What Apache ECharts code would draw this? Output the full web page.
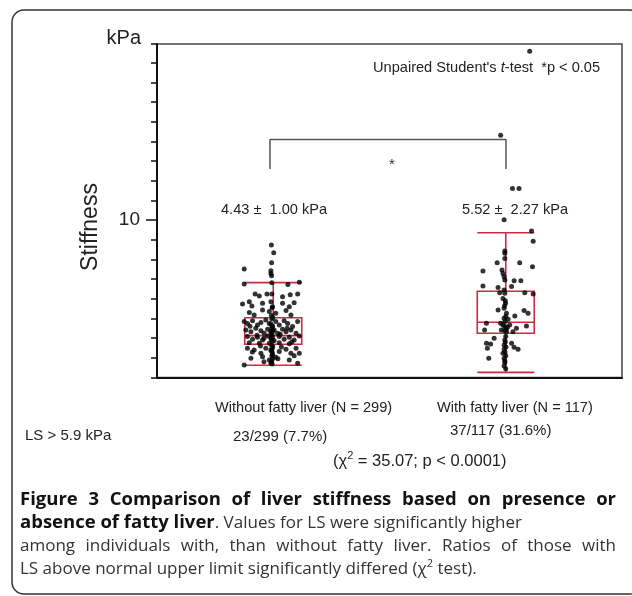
<!DOCTYPE html>
<html>
<head>
<meta charset="utf-8">
<script src="https://cdn.jsdelivr.net/npm/echarts@6/dist/echarts.min.js"></script>
<style>
html,body{margin:0;padding:0;background:#fff;}
#chart{width:632px;height:596px;}
</style>
</head>
<body>
<div id="chart"></div>
<script>
// ---------- data ----------
var categories = ['Without fatty liver (N = 299)', 'With fatty liver (N = 117)'];
// box statistics [min whisker, Q1, median, Q3, max whisker] in kPa
var boxWithout = [2.62, 3.69, 4.13, 5.04, 6.82];
var boxWith = [2.26, 4.25, 4.81, 6.38, 9.36];
// jittered individual values: [jittered group position, kPa]
var pointsWithout = [
  [0.992,8.73],[1.002,8.34],[0.993,7.83],[0.875,7.51],[0.990,7.43],[0.990,7.29],[0.993,7.17],
  [0.875,6.75],[0.994,6.82],[1.063,6.73],[1.112,6.84],[0.922,6.24],[0.940,6.14],[0.973,6.24],
  [0.994,6.24],[1.040,6.11],[1.073,6.21],[1.105,6.24],
  [0.868,5.74],[0.897,5.85],[0.908,5.63],[0.954,5.77],[0.990,5.85],[0.997,5.60],[1.040,5.77],
  [1.069,5.60],[1.090,5.80],
  [0.897,5.30],[0.918,5.18],[0.954,5.43],[0.983,5.35],[1.011,5.26],[1.055,5.40],[1.076,5.18],
  [0.875,4.84],[0.889,4.75],[0.911,4.89],[0.932,4.67],[0.947,4.79],[0.968,4.92],[0.983,4.75],
  [0.997,4.59],[1.011,4.84],[1.026,4.67],[1.047,4.89],[1.062,4.75],[1.083,4.59],[1.105,4.84],
  [0.882,4.42],[0.904,4.33],[0.925,4.50],[0.947,4.38],[0.961,4.25],[0.976,4.45],[0.990,4.33],
  [1.004,4.42],[1.019,4.25],[1.040,4.45],[1.055,4.33],[1.076,4.42],[1.098,4.25],
  [0.889,4.08],[0.911,3.94],[0.932,4.04],[0.954,3.91],[0.976,4.11],[0.990,3.99],[1.004,3.88],
  [1.026,4.08],[1.047,3.94],[1.069,4.04],[1.090,3.91],[1.112,4.11],
  [0.897,3.77],[0.940,3.74],[0.983,3.74],[1.026,3.77],[1.069,3.71],
  [0.889,3.49],[0.918,3.40],[0.947,3.23],[0.968,3.49],[0.990,3.40],[0.997,3.15],[1.026,3.32],
  [1.055,3.44],[1.076,3.23],[1.098,3.49],[1.112,3.23],[0.904,2.98],[0.954,3.06],[0.983,2.89],
  [1.011,3.03],[1.069,2.89],[0.875,2.64],[0.990,2.72],[1.105,2.72],
  [0.995,5.55],[0.992,5.15],[0.998,5.05],[0.994,4.97],[0.990,4.72],[0.996,4.62],[0.993,4.52],
  [0.998,4.36],[0.991,4.28],[0.995,4.18],[0.997,4.06],[0.992,3.96],[0.996,3.84],[0.993,3.64],
  [0.998,3.58],[0.995,3.46],[0.991,3.36],[0.996,3.27],[0.994,3.10],[0.997,2.95],[0.992,2.82],
  [0.995,2.68],[0.930,4.15],[0.960,4.00],[1.030,4.20],[1.060,4.50],[0.900,4.60],[1.080,3.80],
  [0.945,3.60],[1.035,3.55],[0.910,3.30],[1.090,3.10],[1.020,2.95],[0.960,2.80]
];
var pointsWith = [
  [2.103,18.58],[1.978,14.31],[2.029,11.61],[2.057,11.61],[1.993,10.02],
  [2.111,9.44],[2.118,8.93],[1.996,8.43],[1.996,8.31],[1.996,8.05],[1.963,7.83],[2.060,7.83],
  [2.115,7.63],[1.902,7.41],[1.984,7.46],[1.988,7.29],[1.993,7.12],[1.996,6.95],[2.036,6.92],
  [2.065,6.92],[1.902,6.65],[1.967,6.57],[2.025,6.62],[1.993,6.45],
  [1.974,6.31],[1.996,6.28],[2.082,6.31],[2.118,6.24],[1.988,6.02],[1.999,5.77],[1.967,5.43],
  [1.993,5.52],[2.003,5.26],[2.039,5.13],[2.079,5.40],[2.096,5.26],[1.993,5.01],[2.010,4.96],
  [1.917,4.76],[1.978,4.76],[1.988,4.67],[1.996,4.59],[2.007,4.55],[2.017,4.67],[2.046,4.50],
  [2.089,4.62],[1.909,4.42],[1.981,4.42],[2.003,4.33],[2.031,4.33],[1.950,3.99],[1.917,3.74],
  [1.935,3.70],[1.996,3.91],[1.993,3.65],[2.025,3.74],[2.036,3.54],[2.053,3.43],[1.921,3.49],
  [1.993,3.43],[1.988,3.23],[1.927,2.98],[1.993,2.98],[1.996,2.76],[1.993,2.59],
  [1.998,5.90],[1.995,5.65],[2.000,5.10],[1.997,4.85],[2.002,4.45],[1.995,4.38],[2.000,4.10],
  [1.998,3.80],[2.001,3.55],[1.997,3.30],[2.000,3.10],[1.996,2.85],[2.000,2.45]
];
var yMin = 2, yMax = 18.95, yInterval = 1;
var yTickLabels = [10];
var meanTexts = ['4.43 \u00b1  1.00 kPa', '5.52 \u00b1  2.27 kPa'];
var ratioTexts = ['23/299 (7.7%)', '37/117 (31.6%)'];
// significance bracket between groups (group position, kPa)
var bracket = [[0.986,12.6],[0.986,14.1],[2.001,14.1],[2.001,12.6]];

// ---------- chart ----------
var chart = echarts.init(document.getElementById('chart'), null, {renderer:'canvas'});
var F = 'Liberation Sans, Arial, sans-serif';
var CF = '"Open Sans", sans-serif';
var CS = 17;   // caption font size
var CB = 18.5; // caption bold title size
var red = '#cc2b45';
var txt = '#222';

// justified caption line helper (places each word so the line fills x0..x1)
var mctx = document.createElement('canvas').getContext('2d');
function justify(words, font, color, x0, x1, y) {
  mctx.font = font;
  var widths = words.map(function (w) { return mctx.measureText(w).width; });
  var total = widths.reduce(function (a, b) { return a + b; }, 0);
  var gap = (x1 - x0 - total) / (words.length - 1);
  var x = x0, out = [];
  words.forEach(function (w, i) {
    out.push({type:'text', x:x, y:y, silent:true, style:{text:w, font:font, fill:color, verticalAlign:'middle'}});
    x += widths[i] + gap;
  });
  return out;
}

var captionLine1 = 'Figure 3 Comparison of liver stiffness based on presence or'.split(' ');
var captionLine3 = 'among individuals with, than without fatty liver. Ratios of those with'.split(' ');

var graphics = [
  {type:'rect', shape:{x:12, y:10, width:630, height:584, r:12}, style:{fill:null, stroke:'#333', lineWidth:1.5}, silent:true},
  {type:'text', x:141, y:38, style:{text:'kPa', font:'20px '+F, fill:txt, align:'right', verticalAlign:'middle'}},
  {type:'text', x:91, y:227, rotation:Math.PI/2, style:{text:'Stiffness', font:'23px '+F, fill:txt, align:'center', verticalAlign:'middle'}},
  {type:'text', x:373, y:68, style:{rich:{
      n:{fontFamily:F, fontSize:14.6, fill:txt},
      i:{fontFamily:F, fontSize:14.6, fontStyle:'italic', fill:txt}},
    text:"{n|Unpaired Student's }{i|t}{n|-test  *p < 0.05}", verticalAlign:'middle'}},
  {type:'text', x:221, y:209.5, style:{text:meanTexts[0], font:'14.6px '+F, fill:txt, verticalAlign:'middle'}},
  {type:'text', x:462, y:210, style:{text:meanTexts[1], font:'14.6px '+F, fill:txt, verticalAlign:'middle'}},
  {type:'text', x:392, y:165, style:{text:'*', font:'15px '+F, fill:'#333', align:'center', verticalAlign:'middle'}},
  {type:'text', x:215, y:408, style:{text:categories[0], font:'14.6px '+F, fill:txt, verticalAlign:'middle'}},
  {type:'text', x:437, y:408, style:{text:categories[1], font:'14.6px '+F, fill:txt, verticalAlign:'middle'}},
  {type:'text', x:25, y:436, style:{text:'LS > 5.9 kPa', font:'15px '+F, fill:txt, verticalAlign:'middle'}},
  {type:'text', x:233, y:437, style:{text:ratioTexts[0], font:'15px '+F, fill:txt, verticalAlign:'middle'}},
  {type:'text', x:450, y:431, style:{text:ratioTexts[1], font:'15px '+F, fill:txt, verticalAlign:'middle'}},
  {type:'text', x:333, y:461, style:{rich:{
      n:{fontFamily:F, fontSize:16.5, fill:txt, lineHeight:22},
      s:{fontFamily:F, fontSize:11, fill:txt, verticalAlign:'top', lineHeight:22}},
    text:'{n|(\u03c7}{s|2}{n| = 35.07; p < 0.0001)}', verticalAlign:'middle'}},
  {type:'text', x:20, y:523, style:{rich:{
      b:{fontFamily:CF, fontSize:CB, fontWeight:'bold', fill:'#111'},
      n:{fontFamily:CF, fontSize:CS, fill:'#333'}},
    text:'{b|absence of fatty liver}{n|. Values for LS were significantly higher}', verticalAlign:'middle'}},
  {type:'text', x:20, y:569, style:{rich:{
      n:{fontFamily:CF, fontSize:CS, fill:'#333', lineHeight:22},
      s:{fontFamily:CF, fontSize:11, fill:'#333', verticalAlign:'top', lineHeight:22}},
    text:'{n|LS above normal upper limit significantly differed (\u03c7}{s|2}{n| test).}', verticalAlign:'middle'}}
];
graphics = graphics
  .concat(justify(captionLine1, 'bold ' + CB + 'px ' + CF, '#111', 20, 616, 500))
  .concat(justify(captionLine3, CS + 'px ' + CF, '#333', 20, 616, 546));

var option = {
  backgroundColor: '#fff',
  animation: false,
  grid: {left:157, right:10, top:44, bottom:218.5, show:true, borderColor:'#444', borderWidth:1.5, backgroundColor:'transparent'},
  xAxis: [
    {type:'category', data:categories, boundaryGap:true,
     axisLine:{show:true, lineStyle:{color:'#111', width:2}}, axisTick:{show:false}, axisLabel:{show:false}},
    {type:'value', min:0.5, max:2.5, show:false}
  ],
  yAxis: [
    {type:'value', min:yMin, max:yMax, interval:yInterval, position:'left',
     axisLine:{show:true, lineStyle:{color:'#111', width:2}},
     axisTick:{show:true, length:6, lineStyle:{color:'#111', width:1.5}},
     axisLabel:{show:false}, splitLine:{show:false}},
    {type:'value', min:yMin, max:yMax, position:'left',
     axisLine:{show:false},
     axisTick:{show:true, length:11, customValues:yTickLabels, lineStyle:{color:'#111', width:1.5}},
     axisLabel:{show:true, customValues:yTickLabels, margin:17, fontFamily:F, fontSize:19, color:txt},
     splitLine:{show:false}}
  ],
  series: [
    {type:'boxplot', xAxisIndex:0, yAxisIndex:0, data:[boxWithout, boxWith], boxWidth:[57,57],
     itemStyle:{color:'rgba(0,0,0,0)', borderColor:red, borderWidth:1.6}, silent:true, z:2},
    {type:'scatter', xAxisIndex:1, yAxisIndex:0, data:pointsWithout, symbol:'circle', symbolSize:5,
     itemStyle:{color:'#000'}, z:3, silent:true},
    {type:'scatter', xAxisIndex:1, yAxisIndex:0, data:pointsWith, symbol:'circle', symbolSize:5,
     itemStyle:{color:'#000'}, z:3, silent:true},
    {type:'line', xAxisIndex:1, yAxisIndex:0, data:bracket, symbol:'none', silent:true,
     lineStyle:{color:'#555', width:1.5}, z:2}
  ],
  graphic: graphics
};
chart.setOption(option);
</script>
</body>
</html>
